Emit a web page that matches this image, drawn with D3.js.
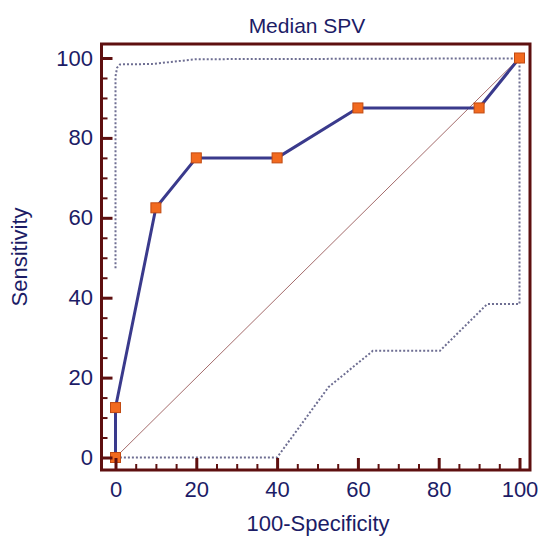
<!DOCTYPE html>
<html>
<head>
<meta charset="utf-8">
<script src="https://cdn.jsdelivr.net/npm/d3@7/dist/d3.min.js"></script>
<style>
  html, body { margin: 0; padding: 0; background: #fff; }
  svg { display: block; }
  text { font-family: "Liberation Sans", Arial, sans-serif; fill: #1c1c66; }
</style>
</head>
<body>
<script>
// ROC curve points (100-Specificity, Sensitivity)
const rocFpr  = [0, 0, 10, 20, 40, 60, 90, 100];
const rocSens = [0, 12.5, 62.5, 75, 75, 87.5, 87.5, 100];

// Confidence band outline: upper bound, then down the right edge, then lower bound
const bandX = [0, 0, 0.4, 1.1, 9, 20, 100, 100, 92, 80.3, 63.7, 52.7, 40, 0];
const bandY = [47.4, 95.4, 97.6, 98.4, 98.5, 99.7, 99.9, 38.4, 38.4, 26.7, 26.7, 17.6, 0, 0];

const majorTicks = [0, 20, 40, 60, 80, 100];
const minorTicks = d3.range(0, 101, 5).filter(v => v % 20 !== 0);

const W = 540, H = 541;
const frame = { left: 101.5, right: 530, top: 44, bottom: 470 };

const svg = d3.select("body").append("svg").attr("width", W).attr("height", H);

const x = d3.scaleLinear().domain([0, 100]).range([115.5, 519.5]);
const y = d3.scaleLinear().domain([0, 100]).range([457.5, 58]);

const frameColor = "#5e0f0f";

// Diagonal reference line
svg.append("line")
  .attr("x1", x(0)).attr("y1", y(0)).attr("x2", x(100)).attr("y2", y(100))
  .attr("stroke", "#9a5a5a").attr("stroke-width", 0.9);

// Confidence band (dotted)
const pts = bandX.map((v, i) => [v, bandY[i]]);
svg.append("path")
  .attr("d", d3.line().x(d => x(d[0])).y(d => y(d[1]))(pts))
  .attr("fill", "none")
  .attr("stroke", "#6e6e92")
  .attr("stroke-width", 2)
  .attr("stroke-dasharray", "2,2");

// ROC curve
const roc = rocFpr.map((v, i) => [v, rocSens[i]]);
svg.append("path")
  .attr("d", d3.line().x(d => x(d[0])).y(d => y(d[1]))(roc))
  .attr("fill", "none")
  .attr("stroke", "#3a3a8c")
  .attr("stroke-width", 3)
  .attr("stroke-linejoin", "round");

const ms = 10;
svg.append("g").selectAll("rect").data(roc).join("rect")
  .attr("x", d => x(d[0]) - ms / 2)
  .attr("y", d => y(d[1]) - ms / 2)
  .attr("width", ms).attr("height", ms)
  .attr("fill", "#f26a1f")
  .attr("stroke", "#c14a12")
  .attr("stroke-width", 1);

// Frame
svg.append("rect")
  .attr("x", frame.left).attr("y", frame.top)
  .attr("width", frame.right - frame.left)
  .attr("height", frame.bottom - frame.top)
  .attr("fill", "none")
  .attr("stroke", frameColor)
  .attr("stroke-width", 3);

function styleAxis(g, w) {
  g.select(".domain").remove();
  g.selectAll(".tick line").attr("stroke", frameColor).attr("stroke-width", w);
}

// Y axis: minor and major ticks pointing inward
svg.append("g").attr("transform", `translate(${frame.left},0)`)
  .call(d3.axisLeft(y).tickValues(minorTicks).tickSize(-6).tickFormat(""))
  .call(g => styleAxis(g, 2));
svg.append("g").attr("transform", `translate(${frame.left},0)`)
  .call(d3.axisLeft(y).tickValues(majorTicks).tickSize(-11).tickPadding(8.5).tickFormat(d3.format("d")))
  .call(g => styleAxis(g, 3))
  .call(g => g.selectAll("text").attr("font-size", 22).attr("fill", "#1c1c66")
    .attr("font-family", "'Liberation Sans', Arial, sans-serif"));

// X axis
svg.append("g").attr("transform", `translate(0,${frame.bottom})`)
  .call(d3.axisBottom(x).tickValues(minorTicks).tickSize(-6).tickFormat(""))
  .call(g => styleAxis(g, 2));
svg.append("g").attr("transform", `translate(0,${frame.bottom})`)
  .call(d3.axisBottom(x).tickValues(majorTicks).tickSize(-12).tickPadding(11).tickFormat(d3.format("d")))
  .call(g => styleAxis(g, 3))
  .call(g => g.selectAll("text").attr("font-size", 22).attr("fill", "#1c1c66")
    .attr("font-family", "'Liberation Sans', Arial, sans-serif"));

// Titles
svg.append("text")
  .attr("x", 307).attr("y", 33)
  .attr("text-anchor", "middle")
  .attr("font-size", 21)
  .text("Median SPV");

svg.append("text")
  .attr("x", 318).attr("y", 531)
  .attr("text-anchor", "middle")
  .attr("font-size", 22)
  .text("100-Specificity");

svg.append("text")
  .attr("transform", `translate(27,${(frame.top + frame.bottom) / 2}) rotate(-90)`)
  .attr("text-anchor", "middle")
  .attr("font-size", 22)
  .text("Sensitivity");
</script>
</body>
</html>
